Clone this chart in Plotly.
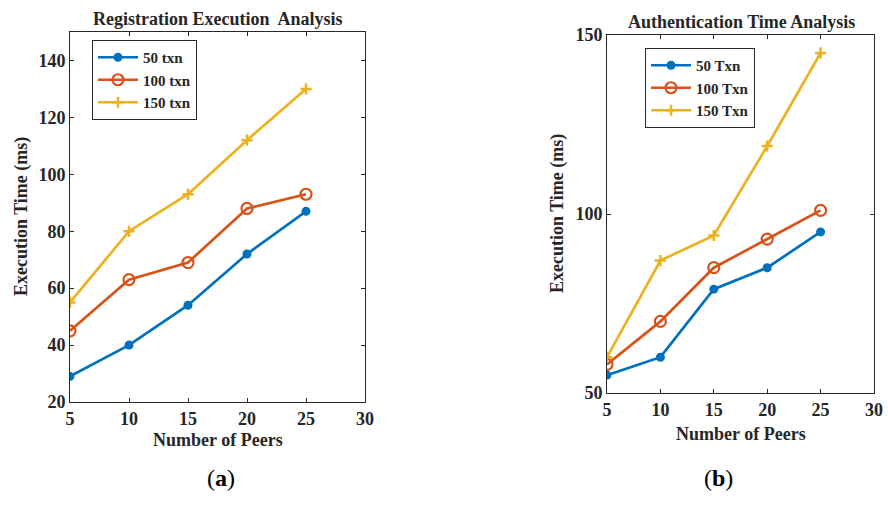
import plotly.graph_objects as go

peers = [5, 10, 15, 20, 25]

reg_names = ["50 txn", "100 txn", "150 txn"]
reg_50 = [29, 40, 54, 72, 87]
reg_100 = [45, 63, 69, 88, 93]
reg_150 = [55, 80, 93, 112, 130]

auth_names = ["50 Txn", "100 Txn", "150 Txn"]
auth_50 = [55, 60, 79, 85, 95]
auth_100 = [58, 70, 85, 93, 101]
auth_150 = [60, 87, 94, 119, 145]

colors = ["#0072BD", "#D95319", "#EDB120"]
FONT = "Liberation Serif"
INK = "#262626"

def marker(i, c):
    if i == 0:
        return dict(symbol="circle", size=9, color=c)
    if i == 1:
        return dict(symbol="circle-open", size=11, color=c, line=dict(width=2.2, color=c))
    return dict(symbol="cross-thin-open", size=8, color=c, line=dict(width=2.5, color=c))

fig = go.Figure()
for i, (name, ys) in enumerate(zip(reg_names, [reg_50, reg_100, reg_150])):
    fig.add_trace(go.Scatter(x=peers, y=ys, name=name, mode="lines+markers",
                             line=dict(color=colors[i], width=2.7), marker=marker(i, colors[i]),
                             xaxis="x", yaxis="y", legend="legend"))
for i, (name, ys) in enumerate(zip(auth_names, [auth_50, auth_100, auth_150])):
    fig.add_trace(go.Scatter(x=peers, y=ys, name=name, mode="lines+markers",
                             line=dict(color=colors[i], width=2.7), marker=marker(i, colors[i]),
                             xaxis="x2", yaxis="y2", legend="legend2"))

W, H = 888, 506
tickfont = dict(family=FONT, size=18, color=INK, weight="bold")
axcommon = dict(showgrid=False, zeroline=False, showline=True, linecolor=INK, linewidth=1,
                mirror="ticks", ticks="inside", ticklen=4, tickcolor=INK,
                tickfont=tickfont, automargin=False)

def ann(text, x, y, size, angle=0, bold=True, color=INK):
    return dict(text=text, x=x / W, y=1 - y / H, xref="paper", yref="paper", showarrow=False,
                textangle=angle, xanchor="center", yanchor="middle",
                font=dict(family=FONT, size=size, color=color, weight="bold" if bold else "normal"))

legfont = dict(family=FONT, size=15, color=INK, weight="bold")

fig.update_layout(
    width=W, height=H, margin=dict(l=0, r=0, t=0, b=0, autoexpand=False),
    paper_bgcolor="white", plot_bgcolor="white", showlegend=True,
    xaxis=dict(domain=[70 / W, 365 / W], range=[5, 30], tickvals=[5, 10, 15, 20, 25, 30],
               anchor="y", **axcommon),
    yaxis=dict(domain=[1 - 402 / H, 1 - 32 / H], range=[20, 150], tickvals=[20, 40, 60, 80, 100, 120, 140],
               anchor="x", **axcommon),
    xaxis2=dict(domain=[607 / W, 874 / W], range=[5, 30], tickvals=[5, 10, 15, 20, 25, 30],
                anchor="y2", **axcommon),
    yaxis2=dict(domain=[1 - 393 / H, 1 - 35 / H], range=[50, 150], tickvals=[50, 100, 150],
                anchor="x2", **axcommon),
    legend=dict(x=92 / W, y=1 - 40 / H, xanchor="left", yanchor="top", bordercolor=INK,
                borderwidth=1, bgcolor="white", font=legfont, tracegroupgap=0, itemwidth=40),
    legend2=dict(x=645 / W, y=1 - 48 / H, xanchor="left", yanchor="top", bordercolor=INK,
                 borderwidth=1, bgcolor="white", font=legfont, tracegroupgap=0, itemwidth=40),
    annotations=[
        ann("Registration Execution  Analysis", 218, 19, 18),
        ann("Authentication Time Analysis", 741, 22, 18),
        ann("Number of Peers", 218, 440, 18),
        ann("Number of Peers", 741, 434, 18),
        ann("Execution Time (ms)", 22, 217, 18, angle=-90),
        ann("Execution Time (ms)", 557, 214, 18, angle=-90),
        dict(text="(<b>a</b>)", x=205 / W, y=1 - 493 / H, xref="paper", yref="paper",
             showarrow=False, font=dict(family=FONT, size=24, color="black")),
        dict(text="(<b>b</b>)", x=735 / W, y=1 - 493 / H, xref="paper", yref="paper",
             showarrow=False, font=dict(family=FONT, size=24, color="black")),
    ],
)

fig.write_html("out.html", config={"displayModeBar": False},
               post_script="document.body.style.margin='0';document.body.style.overflow='hidden';")
